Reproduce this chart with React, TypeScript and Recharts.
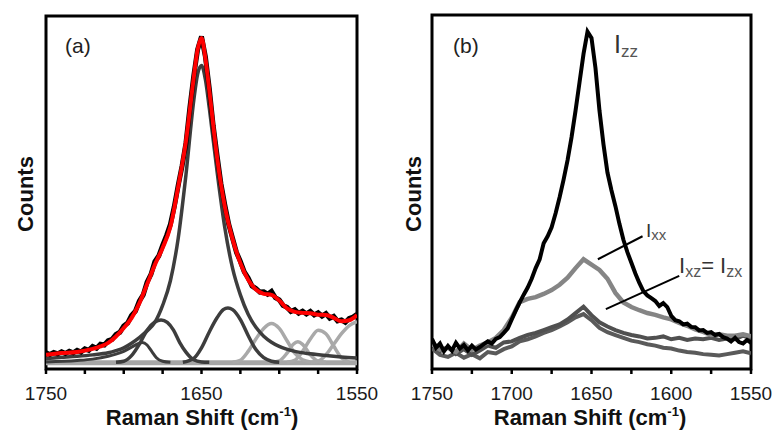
import { LineChart, Line, XAxis, YAxis, ReferenceArea, ReferenceLine, Customized } from 'recharts';

// ---------- panel (a): measured spectrum + fit + components ----------
const measuredShiftA = [
  1750, 1747.5, 1745, 1742.5, 1740, 1737.5, 1735, 1732.5, 1730, 1727.5,
  1725, 1722.5, 1720, 1717.5, 1715, 1712.5, 1710, 1707.5, 1705, 1702.5,
  1700, 1697.5, 1695, 1692.5, 1690, 1687.5, 1685, 1682.5, 1680, 1677.5,
  1675, 1672.5, 1670, 1667.5, 1665, 1662.5, 1660, 1657.5, 1655, 1652.5,
  1650, 1647.5, 1645, 1642.5, 1640, 1637.5, 1635, 1632.5, 1630, 1627.5,
  1625, 1622.5, 1620, 1617.5, 1615, 1612.5, 1610, 1607.5, 1605, 1602.5,
  1600, 1597.5, 1595, 1592.5, 1590, 1587.5, 1585, 1582.5, 1580, 1577.5,
  1575, 1572.5, 1570, 1567.5, 1565, 1562.5, 1560, 1557.5, 1555, 1552.5, 1550,
];
const measuredCountsA = [
  4.6, 4.1, 4.7, 4.3, 4.9, 4.4, 5.0, 4.6, 5.3, 4.8,
  5.7, 5.3, 6.4, 5.9, 7.0, 6.8, 8.0, 8.4, 9.8, 10.4,
  12.2, 13.0, 15.2, 16.4, 19.2, 21.0, 24.6, 26.8, 30.4, 32.0,
  35.0, 37.8, 41.0, 46.0, 52.0, 57.5, 64.0, 74.0, 83.0, 90.5,
  94.2, 88.5, 79.5, 69.0, 60.5, 52.5, 46.5, 41.0, 37.0, 33.0,
  30.5, 27.5, 25.8, 23.5, 22.8, 21.8, 21.9, 21.2, 22.0, 20.2,
  19.6, 18.0, 17.5, 16.3, 16.8, 15.8, 16.4, 15.6, 16.3, 15.3,
  15.9, 15.0, 15.7, 14.4, 14.9, 13.6, 13.9, 13.2, 14.3, 14.7, 15.5,
];

const fitShiftA = [
  1750, 1740, 1730, 1725, 1720, 1715, 1710, 1705, 1700, 1695, 1690, 1685, 1680, 1675,
  1670, 1665, 1660, 1655, 1652.5, 1650, 1647.5, 1645, 1640, 1635, 1630, 1625, 1620,
  1615, 1610, 1605, 1600, 1595, 1590, 1585, 1580, 1575, 1570, 1565, 1560, 1555, 1550,
];
const fitCountsA = [
  4.0, 4.5, 4.8, 5.2, 5.7, 6.4, 7.4, 9.2, 11.6, 14.4, 18.6, 24.0, 29.5, 34.3,
  40.3, 51.6, 64.5, 82.5, 90.5, 93.8, 88.0, 79.0, 60.0, 46.0, 36.8, 30.0, 25.3,
  22.5, 21.3, 21.0, 19.4, 17.2, 16.2, 15.9, 15.8, 15.4, 15.3, 14.5, 13.5, 13.8, 15.3,
];

const mainShiftA = [
  1750, 1740, 1730, 1720, 1710, 1705, 1700, 1695, 1690, 1685, 1680, 1675, 1670, 1665,
  1660, 1655, 1652.5, 1650, 1647.5, 1645, 1640, 1635, 1630, 1625, 1620, 1615, 1610,
  1605, 1600, 1590, 1580, 1570, 1560, 1550,
];
const mainCountsA = [
  3.0, 3.3, 3.6, 4.0, 4.6, 5.2, 6.0, 7.3, 8.9, 10.8, 13.2, 18.0, 25.0, 37.0,
  55.0, 76.0, 83.5, 86.0, 82.0, 74.0, 56.0, 40.0, 28.5, 21.0, 15.5, 11.8, 9.3,
  7.6, 6.4, 5.0, 4.3, 3.8, 3.4, 3.1,
];

const band1688Shift = [1750, 1730, 1720, 1710, 1705, 1700, 1695, 1690, 1688, 1685, 1682, 1679, 1675, 1670];
const band1688Counts = [2.0, 2.4, 2.8, 3.6, 4.2, 5.0, 6.2, 7.3, 7.5, 6.8, 5.0, 3.2, 2.2, 1.9];

const band1676Shift = [1705, 1700, 1695, 1690, 1685, 1680, 1676, 1672, 1668, 1664, 1660, 1655, 1650, 1645];
const band1676Counts = [1.9, 2.2, 3.8, 7.0, 11.0, 13.3, 13.9, 13.2, 11.0, 7.5, 4.8, 2.6, 2.0, 1.9];

const band1633Shift = [1662, 1655, 1650, 1645, 1640, 1636, 1633, 1630, 1625, 1620, 1615, 1610, 1605, 1600];
const band1633Counts = [1.9, 3.0, 6.0, 10.5, 14.5, 16.8, 17.3, 16.8, 14.0, 9.5, 5.5, 3.2, 2.2, 1.9];

const band1605Shift = [1630, 1625, 1620, 1615, 1610, 1605, 1600, 1595, 1590, 1585, 1580];
const band1605Counts = [1.9, 2.5, 5.0, 8.5, 11.5, 12.9, 11.5, 8.0, 4.5, 2.6, 2.0];

const band1588Shift = [1605, 1600, 1595, 1591, 1588, 1585, 1580, 1575, 1570];
const band1588Counts = [1.9, 2.3, 4.5, 7.0, 7.7, 7.0, 4.0, 2.2, 1.9];

const band1574Shift = [1595, 1590, 1585, 1580, 1575, 1570, 1565, 1560, 1555];
const band1574Counts = [1.9, 2.5, 5.0, 8.5, 11.0, 10.0, 6.5, 3.2, 2.0];

const band1550Shift = [1580, 1575, 1570, 1565, 1560, 1555, 1550];
const band1550Counts = [1.9, 2.2, 4.0, 7.0, 10.0, 12.3, 13.4];

const baselineShiftA = [1750, 1550];
const baselineCountsA = [1.8, 1.8];

// ---------- panel (b): polarised spectra ----------
const izzShift = measuredShiftA;
const izzCounts = [
  8.5, 6.0, 7.2, 5.0, 6.5, 5.2, 7.4, 5.8, 6.8, 5.3,
  6.6, 5.5, 6.2, 7.0, 7.8, 7.2, 8.5, 9.0, 10.2, 11.5,
  14.0, 16.5, 18.8, 21.0, 23.0, 25.5, 28.5, 31.0, 35.5, 37.5,
  40.0, 44.0, 48.5, 53.5, 59.0, 65.5, 73.0, 81.0, 89.0, 95.3,
  93.5, 85.0, 73.0, 63.5, 55.5, 50.5, 46.0, 41.0, 36.5, 33.0,
  30.0, 27.0, 24.3, 22.0, 20.8, 20.0, 19.2, 17.8, 18.6, 17.5,
  15.0, 13.8, 13.5, 12.6, 12.8, 11.9, 11.8, 10.9, 11.0, 10.2,
  10.4, 9.6, 9.9, 9.0, 8.6, 7.8, 8.8, 7.6, 7.2, 8.2, 7.4,
];

const polShiftB = [
  1750, 1745, 1740, 1735, 1730, 1725, 1720, 1715, 1710, 1705, 1700, 1695, 1690, 1685,
  1680, 1675, 1670, 1665, 1660, 1655, 1650, 1645, 1640, 1635, 1630, 1625, 1620, 1615,
  1610, 1605, 1600, 1595, 1590, 1585, 1580, 1575, 1570, 1565, 1560, 1555, 1550,
];
const ixxCounts = [
  7.0, 5.5, 6.0, 4.8, 7.2, 5.4, 6.6, 7.5, 8.8, 11.0, 14.5, 18.9, 19.8, 20.3,
  21.2, 22.3, 23.8, 25.8, 28.5, 31.0, 29.5, 28.0, 25.5, 21.5, 18.8, 17.5, 16.6, 15.8,
  15.3, 14.6, 14.0, 13.0, 12.2, 11.2, 10.5, 9.6, 9.8, 9.4, 9.4, 9.8, 9.2,
];
const ixzCounts = [
  8.0, 5.0, 6.2, 4.2, 5.6, 4.0, 5.2, 6.6, 6.0, 7.5, 7.8, 8.8, 9.6, 10.2,
  11.0, 11.8, 12.6, 14.0, 15.8, 17.6, 15.2, 13.2, 12.0, 11.0, 10.2, 9.6, 9.2, 8.6,
  8.8, 9.2, 8.4, 8.8, 8.2, 8.6, 8.4, 8.8, 8.2, 8.6, 8.4, 9.4, 8.6,
];
const izxCounts = [
  5.8, 4.0, 3.4, 4.6, 3.2, 4.2, 3.0, 4.8, 4.4, 5.6, 6.4, 7.8, 8.4, 9.2,
  10.2, 11.0, 12.0, 13.2, 14.6, 15.5, 13.8, 11.6, 10.4, 9.6, 8.8, 8.0, 7.6, 7.0,
  6.6, 6.0, 5.8, 5.2, 4.8, 4.6, 4.2, 4.0, 3.8, 4.2, 4.6, 5.0, 4.4,
];

const axisTicks = [1750, 1725, 1700, 1675, 1650, 1625, 1600, 1575, 1550];
const labelsA = [1750, 1650, 1550];
const labelsB = [1750, 1700, 1650, 1600, 1550];

const zip = (xs: number[], ys: number[]) => xs.map((x, i) => ({ x, y: ys[i] }));

const FONT = '"Liberation Sans", Arial, sans-serif';
const W = 388;
const H = 435;

const DARK = '#3d3d3d';
const LIGHT = '#a9a9a9';

function AxisTitles({ tag }: { tag: string }) {
  return (
    <g fontFamily={FONT}>
      <text x={65} y={53} fontSize={21} fill="#222">{tag}</text>
      <text
        x={33}
        y={194}
        transform="rotate(-90 33 194)"
        textAnchor="middle"
        fontSize={22}
        fontWeight="bold"
        fill="#111"
      >
        Counts
      </text>
      <text x={202} y={425} textAnchor="middle" fontSize={22} fontWeight="bold" fill="#111">
        Raman Shift (cm<tspan fontSize={13} dy={-9}>-1</tspan><tspan dy={9}>)</tspan>
      </text>
    </g>
  );
}

function Panel({ children, left, margin, labels, tag, extra }: any) {
  return (
    <div style={{ position: 'absolute', left, top: 0, width: W, height: H }}>
      <LineChart width={W} height={H} margin={margin}>
        <XAxis
          dataKey="x"
          type="number"
          domain={[1550, 1750]}
          reversed
          allowDataOverflow
          ticks={axisTicks}
          tickFormatter={(v: number) => (labels.includes(v) ? String(v) : '')}
          axisLine={false}
          tickLine={{ stroke: '#000', strokeWidth: 2.5 }}
          tickSize={5}
          tickMargin={13}
          height={H - 369}
          tick={{ fontSize: 19, fill: '#1a1a1a', fontFamily: FONT }}
        />
        <YAxis type="number" domain={[0, 100]} hide width={0} />
        {children}
        <ReferenceArea x1={1750} x2={1550} y1={0} y2={100} fill="none" stroke="#000" strokeWidth={3} />
        {extra}
        <Customized component={() => <AxisTitles tag={tag} />} />
      </LineChart>
    </div>
  );
}

export default function App() {
  return (
    <div style={{ position: 'absolute', left: 0, top: 0, width: 776, height: 435, background: '#fff' }}>
      <Panel left={0} margin={{ top: 16, right: 31, bottom: 0, left: 46 }} labels={labelsA} tag="(a)">
        <Line data={zip(baselineShiftA, baselineCountsA)} dataKey="y" stroke="#a6a6a6" strokeWidth={5} dot={false} isAnimationActive={false} />
        <Line data={zip(band1605Shift, band1605Counts)} dataKey="y" type="monotone" stroke={LIGHT} strokeWidth={3.5} dot={false} isAnimationActive={false} />
        <Line data={zip(band1588Shift, band1588Counts)} dataKey="y" type="monotone" stroke={LIGHT} strokeWidth={3.5} dot={false} isAnimationActive={false} />
        <Line data={zip(band1574Shift, band1574Counts)} dataKey="y" type="monotone" stroke={LIGHT} strokeWidth={3.5} dot={false} isAnimationActive={false} />
        <Line data={zip(band1550Shift, band1550Counts)} dataKey="y" type="monotone" stroke={LIGHT} strokeWidth={3.5} dot={false} isAnimationActive={false} />
        <Line data={zip(band1688Shift, band1688Counts)} dataKey="y" type="monotone" stroke={DARK} strokeWidth={3} dot={false} isAnimationActive={false} />
        <Line data={zip(band1676Shift, band1676Counts)} dataKey="y" type="monotone" stroke={DARK} strokeWidth={3.5} dot={false} isAnimationActive={false} />
        <Line data={zip(band1633Shift, band1633Counts)} dataKey="y" type="monotone" stroke={DARK} strokeWidth={3.5} dot={false} isAnimationActive={false} />
        <Line data={zip(mainShiftA, mainCountsA)} dataKey="y" type="monotone" stroke={DARK} strokeWidth={3.5} dot={false} isAnimationActive={false} />
        <Line data={zip(measuredShiftA, measuredCountsA)} dataKey="y" stroke="#000" strokeWidth={5} dot={false} isAnimationActive={false} />
        <Line data={zip(fitShiftA, fitCountsA)} dataKey="y" type="monotone" stroke="#ff0000" strokeWidth={4} dot={false} isAnimationActive={false} />
      </Panel>
      <Panel
        left={388}
        margin={{ top: 15, right: 25, bottom: 0, left: 44 }}
        labels={labelsB}
        tag="(b)"
        extra={
          <>
            <ReferenceLine segment={[{ x: 1646, y: 31 }, { x: 1618, y: 37.5 }]} stroke="#000" strokeWidth={2} />
            <ReferenceLine segment={[{ x: 1641, y: 16.9 }, { x: 1595, y: 26.3 }]} stroke="#000" strokeWidth={2} />
            <Customized
              component={() => (
                <g fontFamily={FONT} fill="#333">
                  <text x={226} y={53} fontSize={25}>
                    I<tspan fontSize={17} dy={4} fill="#555">zz</tspan>
                  </text>
                  <text x={258} y={237} fontSize={19}>
                    I<tspan fontSize={15} dy={3} fill="#555">xx</tspan>
                  </text>
                  <text x={291} y={273} fontSize={22}>
                    I<tspan fontSize={16} dy={4} fill="#555">xz</tspan>
                    <tspan dy={-4}>= I</tspan>
                    <tspan fontSize={16} dy={4} fill="#555">zx</tspan>
                  </text>
                </g>
              )}
            />
          </>
        }
      >
        <Line data={zip(polShiftB, izxCounts)} dataKey="y" stroke="#5a5a5a" strokeWidth={4} dot={false} isAnimationActive={false} />
        <Line data={zip(polShiftB, ixzCounts)} dataKey="y" stroke="#505050" strokeWidth={4} dot={false} isAnimationActive={false} />
        <Line data={zip(polShiftB, ixxCounts)} dataKey="y" stroke="#858585" strokeWidth={4.5} dot={false} isAnimationActive={false} />
        <Line data={zip(izzShift, izzCounts)} dataKey="y" stroke="#000" strokeWidth={4} dot={false} isAnimationActive={false} />
      </Panel>
    </div>
  );
}
